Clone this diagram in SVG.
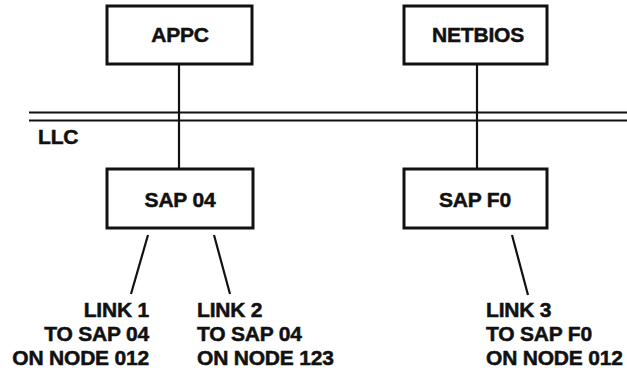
<svg xmlns="http://www.w3.org/2000/svg" width="627" height="372" viewBox="0 0 627 372">
  <style>
    .box { fill: #fff; stroke: #111; stroke-width: 3; }
    .ln { stroke: #111; stroke-width: 2.2; fill: none; }
    text { font-family: "Liberation Sans", Arial, sans-serif; font-weight: bold; font-size: 21px; fill: #111; stroke: #111; stroke-width: 0.5; letter-spacing: -0.2px; }
    .c { text-anchor: middle; }
    .e { text-anchor: end; }
  </style>
  <rect width="627" height="372" fill="#fff"/>

  <!-- LLC layer boundary -->
  <g id="llc">
    <line class="ln" x1="29" y1="112.5" x2="627" y2="112.5"/>
    <line class="ln" x1="29" y1="120.5" x2="627" y2="120.5"/>
    <text x="38" y="144">LLC</text>
  </g>

  <!-- connectors -->
  <g id="connectors">
    <line class="ln" x1="179" y1="64" x2="179" y2="169"/>
    <line class="ln" x1="477" y1="64" x2="477" y2="169"/>
    <line class="ln" x1="148" y1="235" x2="131" y2="294"/>
    <line class="ln" x1="214" y1="235" x2="230" y2="294"/>
    <line class="ln" x1="512" y1="235" x2="528" y2="295"/>
  </g>

  <g id="appc">
    <rect class="box" x="107" y="6" width="145" height="58"/>
    <text class="c" x="180" y="42">APPC</text>
  </g>
  <g id="netbios">
    <rect class="box" x="404" y="6" width="143" height="58"/>
    <text class="c" x="478" y="42">NETBIOS</text>
  </g>
  <g id="sap04">
    <rect class="box" x="107" y="169" width="146" height="59"/>
    <text class="c" x="180" y="207">SAP 04</text>
  </g>
  <g id="sapf0">
    <rect class="box" x="404" y="169" width="143" height="59"/>
    <text class="c" x="475" y="207">SAP F0</text>
  </g>

  <g id="link1">
    <text class="e" x="149" y="317">LINK 1</text>
    <text class="e" x="149" y="341">TO SAP 04</text>
    <text class="e" x="149" y="365">ON NODE 012</text>
  </g>
  <g id="link2">
    <text x="197" y="317">LINK 2</text>
    <text x="197" y="341">TO SAP 04</text>
    <text x="197" y="365">ON NODE 123</text>
  </g>
  <g id="link3">
    <text x="486" y="317">LINK 3</text>
    <text x="486" y="341">TO SAP F0</text>
    <text x="486" y="365">ON NODE 012</text>
  </g>
</svg>
